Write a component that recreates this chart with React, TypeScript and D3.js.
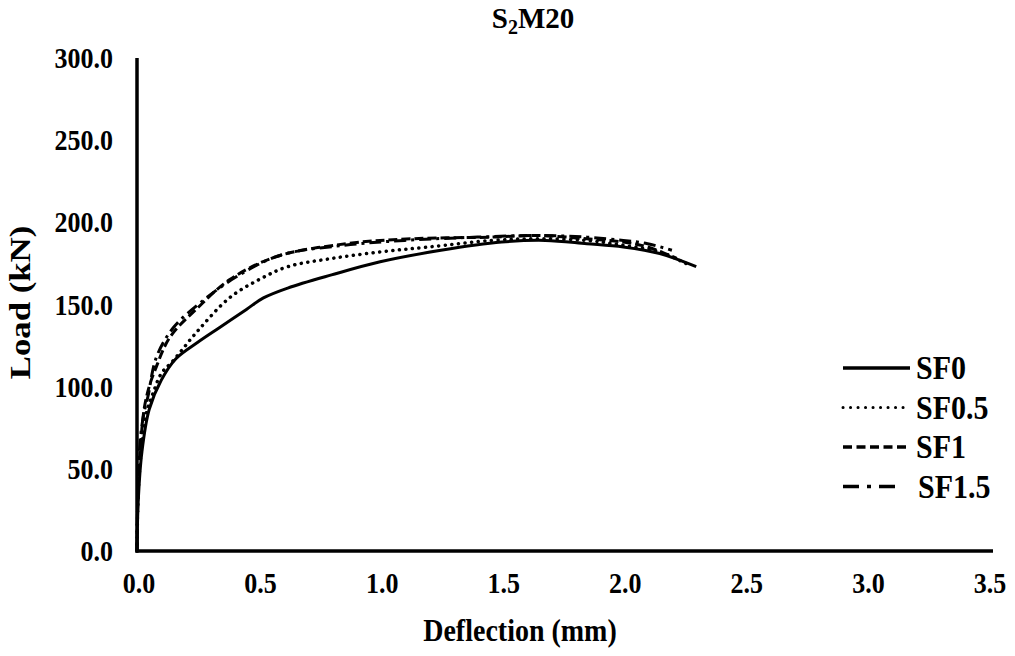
import { useEffect, useRef } from 'react';
import * as d3 from 'd3';

// Load-deflection readings
const sf0Deflection = [0, 0.005, 0.02, 0.05, 0.1, 0.16, 0.25, 0.34, 0.45, 0.52, 0.62, 0.8, 1.0, 1.25, 1.5, 1.68, 1.85, 2.0, 2.15, 2.3];
const sf0Load = [0, 30, 60, 86, 104, 117, 127, 136, 147, 154, 160, 168, 176, 183, 188, 189, 187, 185, 181, 173];

const sf05Deflection = [0, 0.005, 0.02, 0.04, 0.066, 0.1, 0.15, 0.25, 0.38, 0.5, 0.62, 0.8, 1.0, 1.2, 1.46, 1.65, 1.85, 2.0, 2.15, 2.27];
const sf05Load = [0, 35, 65, 85, 96, 108, 116, 134, 154, 165, 173, 178, 182, 185, 189, 190, 189, 186, 182, 174];

const sf1Deflection = [0, 0.005, 0.015, 0.03, 0.05, 0.074, 0.135, 0.25, 0.38, 0.57, 0.86, 1.13, 1.46, 1.65, 1.85, 2.0, 2.1, 2.22];
const sf1Load = [0, 40, 65, 87, 100, 110, 130, 148, 165, 179, 187, 190, 191, 192, 190, 188, 185, 178];

const sf15Deflection = [0, 0.005, 0.015, 0.03, 0.045, 0.08, 0.15, 0.26, 0.41, 0.59, 0.85, 1.1, 1.4, 1.65, 1.85, 2.0, 2.1, 2.2];
const sf15Load = [0, 45, 70, 85, 94, 118, 136, 151, 167, 180, 186, 189, 191, 192, 191, 189, 187, 183];

const seriesNames = ['SF0', 'SF0.5', 'SF1', 'SF1.5'];
const xTicks = [0, 0.5, 1, 1.5, 2, 2.5, 3, 3.5];
const yTicks = [0, 50, 100, 150, 200, 250, 300];

export default function App() {
  const svgRef = useRef(null);

  useEffect(() => {
    document.body.style.margin = '0';
    const svg = d3.select(svgRef.current);
    svg.selectAll('*').remove();

    const font = '"Liberation Serif", "Times New Roman", serif';
    const stretch = 1.12; // glyphs in the reference are a bit taller than wide
    const left = 137, right = 988, top = 58, bottom = 551;

    const x = d3.scaleLinear().domain([0, 3.5]).range([left, right]);
    const y = d3.scaleLinear().domain([0, 300]).range([bottom, top]);

    const at = (px: number, py: number) => `translate(${px},${py}) scale(1,${stretch})`;

    // title
    const title = svg.append('text')
      .attr('x', 533)
      .attr('y', 28)
      .attr('text-anchor', 'middle')
      .attr('font-family', font)
      .attr('font-weight', 'bold')
      .attr('font-size', 29);
    title.append('tspan').text('S');
    title.append('tspan').attr('dy', 6).attr('font-size', 20).text('2');
    title.append('tspan').attr('dy', -6).text('M20');

    // tick labels
    svg.append('g').selectAll('text')
      .data(yTicks)
      .enter()
      .append('text')
      .attr('transform', d => at(113, y(d) + 10))
      .attr('text-anchor', 'end')
      .attr('font-family', font)
      .attr('font-weight', 'bold')
      .attr('font-size', 26)
      .text(d => d.toFixed(1));

    svg.append('g').selectAll('text')
      .data(xTicks)
      .enter()
      .append('text')
      .attr('transform', d => at(x(d) + 2, 593))
      .attr('text-anchor', 'middle')
      .attr('font-family', font)
      .attr('font-weight', 'bold')
      .attr('font-size', 26)
      .text(d => d.toFixed(1));

    // axis titles
    svg.append('text')
      .attr('transform', at(520, 641))
      .attr('text-anchor', 'middle')
      .attr('font-family', font)
      .attr('font-weight', 'bold')
      .attr('font-size', 28)
      .text('Deflection (mm)');

    svg.append('text')
      .attr('transform', `translate(30, ${(top + bottom) / 2 - 2}) scale(1,1.16) rotate(-90)`)
      .attr('text-anchor', 'middle')
      .attr('font-family', font)
      .attr('font-weight', 'bold')
      .attr('font-size', 30)
      .text('Load (kN)');

    // series
    const series = [
      { name: seriesNames[0], xs: sf0Deflection, ys: sf0Load, dash: null, legendDash: null, cap: 'butt' },
      { name: seriesNames[1], xs: sf05Deflection, ys: sf05Load, dash: '0.1 6.5', legendDash: '0.1 7.4', cap: 'round' },
      { name: seriesNames[2], xs: sf1Deflection, ys: sf1Load, dash: '9 4', legendDash: '9 4.5', cap: 'butt' },
      { name: seriesNames[3], xs: sf15Deflection, ys: sf15Load, dash: '12 5 3 5', legendDash: '16 8 4 8', cap: 'butt' },
    ];

    const line = d3.line<[number, number]>()
      .x(d => x(d[0]))
      .y(d => y(d[1]))
      .curve(d3.curveCatmullRom.alpha(0.5));

    series.forEach(s => {
      const pts = s.xs.map((v, i) => [v, s.ys[i]] as [number, number]);
      svg.append('path')
        .datum(pts)
        .attr('fill', 'none')
        .attr('stroke', '#000')
        .attr('stroke-width', s.cap === 'round' ? 3.5 : 3)
        .attr('stroke-linecap', s.cap)
        .attr('stroke-dasharray', s.dash)
        .attr('d', line);
    });

    // axes lines
    svg.append('line')
      .attr('x1', left).attr('x2', left)
      .attr('y1', top).attr('y2', bottom + 1.5)
      .attr('stroke', '#000').attr('stroke-width', 3.5);
    svg.append('line')
      .attr('x1', left - 1.5).attr('x2', 993)
      .attr('y1', bottom).attr('y2', bottom)
      .attr('stroke', '#000').attr('stroke-width', 3.5);

    // legend
    const legend = svg.append('g');
    series.forEach((s, i) => {
      const ly = 368 + i * 39.5;
      const row = legend.append('g');
      row.append('line')
        .attr('x1', 843)
        .attr('x2', s.name === 'SF1.5' ? 903 : 910)
        .attr('y1', ly).attr('y2', ly)
        .attr('stroke', '#000')
        .attr('stroke-width', s.cap === 'round' ? 3 : 3.5)
        .attr('stroke-linecap', s.cap)
        .attr('stroke-dasharray', s.legendDash);
      row.append('text')
        .attr('transform', at(s.name === 'SF1.5' ? 918 : 916, ly + 11))
        .attr('font-family', font)
        .attr('font-weight', 'bold')
        .attr('font-size', 30)
        .text(s.name);
    });
  }, []);

  return <svg ref={svgRef} width={1015} height={656} style={{ display: 'block', background: '#fff' }} />;
}
